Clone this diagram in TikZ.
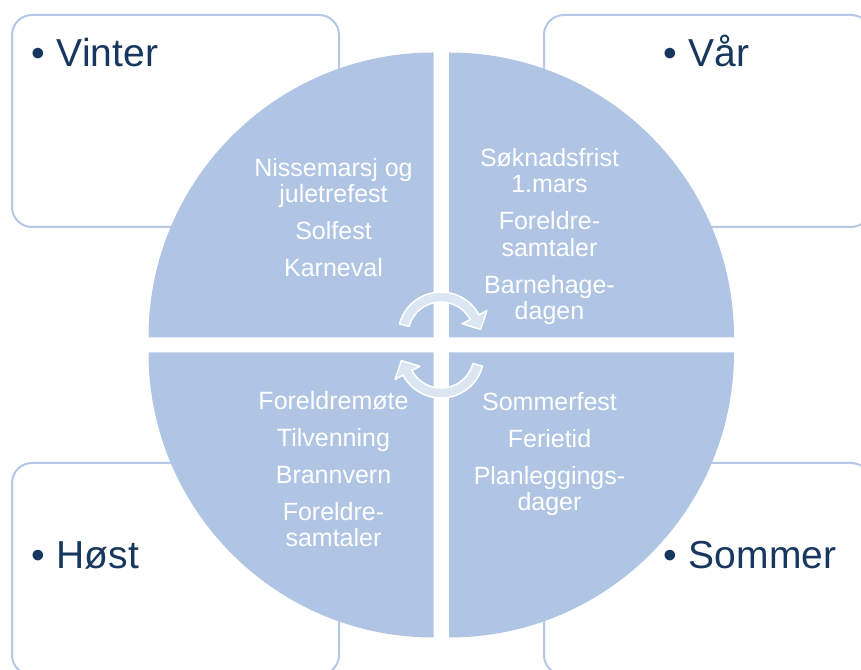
\documentclass[tikz,border=0pt]{standalone}
\usepackage{fontspec}
\setmainfont{Liberation Sans}
\usepackage{xcolor}
\usepackage{tikz}
\usetikzlibrary{positioning}
\definecolor{quadblue}{RGB}{176,197,228}
\definecolor{boxline}{RGB}{180,199,231}
\definecolor{labelnavy}{RGB}{23,55,94}
\definecolor{arrowfill}{RGB}{220,230,243}
\tikzset{
    seasonbox/.style = {rectangle, rounded corners=20pt, draw=boxline, line width=2pt, fill=white, minimum width=327pt, minimum height=212pt, inner sep=0pt},
    seasonlabel/.style = {anchor=base west, inner sep=0pt, text=labelnavy, font=\fontsize{39}{44}\selectfont},
    quadtext/.style = {anchor=north, inner sep=0pt, align=center, text=white, font=\fontsize{25}{26.5}\selectfont},
    quadrant/.style = {fill=quadblue},
    cyclearrow/.style = {fill=arrowfill, draw=white, line width=1.5pt, line join=round},
}
\begin{document}
\begin{tikzpicture}[x=1pt, y=1pt]
\useasboundingbox (0,0) rectangle (861,669);
\clip (0,0) rectangle (861,669);
% season boxes
\node[seasonbox] at (175.5,548) (vinterbox) {};
\node[seasonbox] at (707.5,548) (varbox) {};
\node[seasonbox] at (175.5,100) (hostbox) {};
\node[seasonbox] at (707.5,100) (sommerbox) {};
%
\node[seasonlabel] at (31,602) (vinter) {•\hspace{12pt}Vinter};
\node[seasonlabel] at (663,602) (var) {•\hspace{12pt}Vår};
\node[seasonlabel] at (31,100) (host) {•\hspace{12pt}Høst};
\node[seasonlabel] at (663,100) (sommer) {•\hspace{12pt}Sommer};
% quadrants of the wheel
\fill[quadrant] (433.5,331.5) -- (148.5,331.5) arc[start angle=180, end angle=90, radius=285pt] -- cycle;
\fill[quadrant] (449,331.5) -- (449,616.5) arc[start angle=90, end angle=0, radius=285pt] -- cycle;
\fill[quadrant] (433.5,316.5) -- (433.5,31.5) arc[start angle=270, end angle=180, radius=285pt] -- cycle;
\fill[quadrant] (449,316.5) -- (734,316.5) arc[start angle=0, end angle=-90, radius=285pt] -- cycle;
%
\node[quadtext] at (333.5,511) (wintertxt) {Nissemarsj og\\juletrefest\\[10.5pt]Solfest\\[10.5pt]Karneval};
\node[quadtext] at (549.5,521) (springtxt) {Søknadsfrist\\1.mars\\[10.5pt]Foreldre-\\samtaler\\[10.5pt]Barnehage-\\dagen};
\node[quadtext] at (333.5,278) (autumntxt) {Foreldremøte\\[10.5pt]Tilvenning\\[10.5pt]Brannvern\\[10.5pt]Foreldre-\\samtaler};
\node[quadtext] at (549.5,277) (summertxt) {Sommerfest\\[10.5pt]Ferietid\\[10.5pt]Planleggings-\\dager};
% cycle arrows
\begin{scope}[shift={(441,334)}]
\draw[cyclearrow] (165:43pt) arc[start angle=165, end angle=28, radius=43pt] -- (28:52pt) -- (8:40pt) -- (28:24pt) -- (28:33pt) arc[start angle=28, end angle=165, radius=33pt] -- cycle;
\end{scope}
\begin{scope}[rotate around={180:(441,324)}, shift={(441,334)}]
\draw[cyclearrow] (165:43pt) arc[start angle=165, end angle=28, radius=43pt] -- (28:52pt) -- (8:40pt) -- (28:24pt) -- (28:33pt) arc[start angle=28, end angle=165, radius=33pt] -- cycle;
\end{scope}
\end{tikzpicture}
\end{document}
